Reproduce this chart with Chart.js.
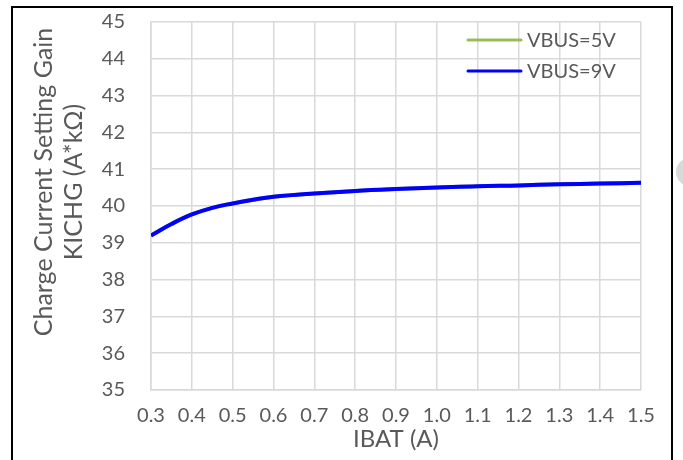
<!DOCTYPE html>
<html>
<head>
<meta charset="utf-8">
<script src="https://cdn.jsdelivr.net/npm/chart.js@4.4.1/dist/chart.umd.min.js"></script>
<style>
  html, body { margin: 0; padding: 0; background: #fff; }
  #wrap { position: relative; width: 683px; height: 460px; overflow: hidden; }
  #frame { position: absolute; left: 11px; top: 6px; width: 662px; height: 470px; border: 2px solid #000; box-sizing: border-box; }
  #dot { position: absolute; left: 676px; top: 158px; width: 28px; height: 28px; border-radius: 50%; background: #d9d9d9; }
  canvas { position: absolute; left: 0; top: 0; }
</style>
</head>
<body>
<div id="wrap">
  <div id="frame"></div>
  <div id="dot"></div>
  <canvas id="chart" width="683" height="460"></canvas>
</div>
<script>
// Charge current (A) vs. setting gain KICHG
const ibat = [0.3, 0.35, 0.4, 0.45, 0.5, 0.55, 0.6, 0.7, 0.8, 0.9, 1.0, 1.1, 1.2, 1.3, 1.4, 1.5];
const gain5V = [39.20, 39.51, 39.77, 39.95, 40.07, 40.17, 40.25, 40.34, 40.41, 40.46, 40.50, 40.54, 40.56, 40.59, 40.61, 40.63];
const gain9V = [39.20, 39.51, 39.77, 39.95, 40.07, 40.17, 40.25, 40.34, 40.41, 40.46, 40.50, 40.54, 40.56, 40.59, 40.61, 40.63];

const seriesNames = ['VBUS=5V', 'VBUS=9V'];
const seriesColors = ['#9bbb59', '#0000ff'];
const yTitle = ['Charge Current Setting Gain', 'KICHG (A*k\u03A9)'];

const FONT = 'Lato, "Open Sans", sans-serif';
const TEXT = '#595959';
const GRID = '#d9d9d9';

const toPoints = (ys) => ibat.map((x, i) => ({ x: x, y: ys[i] }));

// legend inside the plot (top right) and the two-line y title, which sits
// a bit above the middle of the axis
const extras = {
  id: 'extras',
  afterDraw(chart) {
    const { ctx, chartArea } = chart;
    const x0 = chartArea.right - 173;
    ctx.save();
    ctx.font = '20px ' + FONT;
    ctx.textBaseline = 'middle';
    chart.data.datasets.forEach((ds, i) => {
      const y = chartArea.top + 18 + i * 31;
      ctx.strokeStyle = ds.borderColor;
      ctx.lineWidth = 3;
      ctx.lineCap = 'round';
      ctx.beginPath();
      ctx.moveTo(x0, y);
      ctx.lineTo(x0 + 53, y);
      ctx.stroke();
      ctx.fillStyle = TEXT;
      ctx.fillText(ds.label, x0 + 59, y + 1);
    });

    const cy = (chartArea.top + chartArea.bottom) / 2 - 24;
    ctx.font = '25px ' + FONT;
    ctx.textAlign = 'center';
    ctx.fillStyle = TEXT;
    yTitle.forEach((line, i) => {
      ctx.save();
      ctx.translate(44 + i * 30, cy);
      ctx.rotate(-Math.PI / 2);
      ctx.fillText(line, 0, 0);
      ctx.restore();
    });
    ctx.restore();
  }
};

const ctx = document.getElementById('chart').getContext('2d');
new Chart(ctx, {
  type: 'line',
  data: {
    datasets: [
      {
        label: seriesNames[0],
        data: toPoints(gain5V),
        borderColor: seriesColors[0],
        borderWidth: 4,
        pointRadius: 0,
        tension: 0.4,
        fill: false,
        order: 2
      },
      {
        label: seriesNames[1],
        data: toPoints(gain9V),
        borderColor: seriesColors[1],
        borderWidth: 4,
        pointRadius: 0,
        tension: 0.4,
        fill: false,
        order: 1
      }
    ]
  },
  options: {
    responsive: false,
    animation: false,
    layout: { padding: { left: 28, right: 42, top: 22, bottom: 6 } },
    plugins: {
      legend: { display: false },
      tooltip: { enabled: false }
    },
    scales: {
      x: {
        type: 'linear',
        min: 0.3,
        max: 1.5,
        grid: { color: GRID, lineWidth: 1.5, drawTicks: false },
        border: { color: GRID, width: 1.5 },
        ticks: {
          stepSize: 0.1,
          padding: 14,
          color: TEXT,
          font: { family: FONT, size: 20 },
          callback: (v) => v.toFixed(1)
        },
        title: {
          display: true,
          text: 'IBAT (A)',
          color: TEXT,
          font: { family: FONT, size: 24 },
          padding: { top: -8, bottom: 0 }
        },
        afterFit: (s) => { s.height = 64; }
      },
      y: {
        min: 35,
        max: 45,
        grid: { color: GRID, lineWidth: 1.5, drawTicks: false },
        border: { color: GRID, width: 1.5 },
        ticks: {
          stepSize: 1,
          padding: 26,
          color: TEXT,
          font: { family: FONT, size: 20 }
        },
        afterFit: (s) => {
          s.width = 151 - 28;
          s.paddingTop = 0;
          s.paddingBottom = 0;
        }
      }
    }
  },
  plugins: [extras]
});
</script>
</body>
</html>
